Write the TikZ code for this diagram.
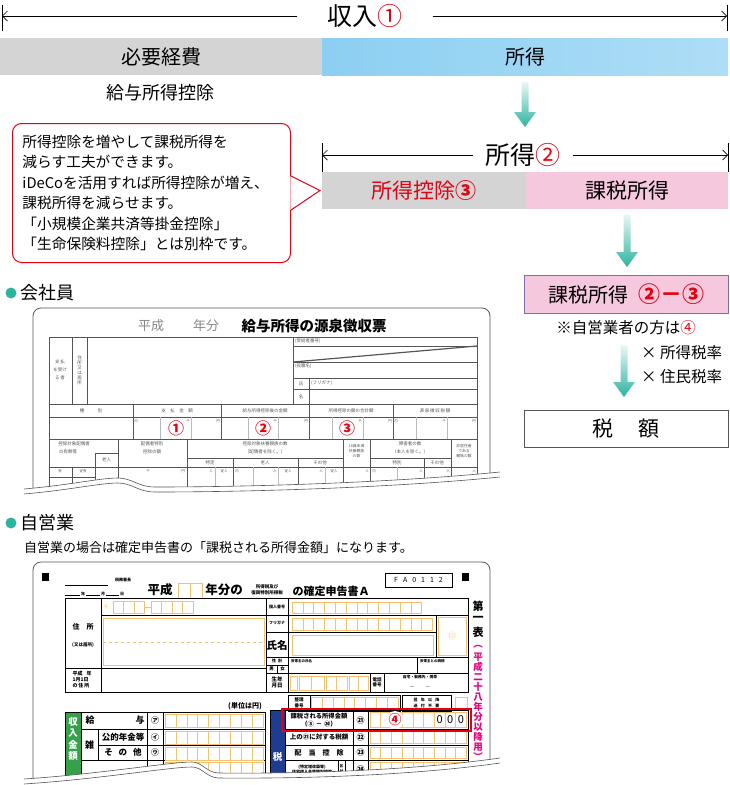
\documentclass[tikz,border=0pt]{standalone}
\usepackage{fontspec}
\setmainfont{Noto Sans CJK JP}
\usetikzlibrary{positioning}
\usetikzlibrary{calc}
\usetikzlibrary{arrows.meta}

\definecolor{maru}{RGB}{45,180,160}
\definecolor{aoi}{RGB}{140,207,242}
\definecolor{usuao}{RGB}{226,242,252}
\definecolor{hai}{RGB}{212,212,212}
\definecolor{momo}{RGB}{246,200,222}
\definecolor{aka}{RGB}{230,0,18}
\definecolor{murasaki}{RGB}{125,110,175}
\definecolor{daidai}{RGB}{247,192,110}
\definecolor{midori}{RGB}{55,160,75}
\definecolor{kon}{RGB}{30,60,145}
\definecolor{beni}{RGB}{228,0,127}
\definecolor{sumi}{RGB}{85,85,85}

\newcommand{\fs}[1]{\fontsize{#1}{#1}\selectfont}
% teal arrow pointing down, from #1 to #2
\newcommand{\tealarrow}[2]{%
  \shade[top color=maru!10, bottom color=maru]
    ($(#1)+(-3.5,0)$) -- ($(#2)+(-3.5,-15)$) -- ($(#2)+(-11,-15)$) -- (#2)
    -- ($(#2)+(11,-15)$) -- ($(#2)+(3.5,-15)$) -- ($(#1)+(3.5,0)$) -- cycle;}

\begin{document}
\begin{tikzpicture}[x=1pt, y=-1pt,
  bar/.style={minimum height=37pt, inner sep=0pt, outer sep=0pt},
  spanarrow/.style={-{Straight Barb[length=5pt,width=10pt]}, line width=0.7pt},
  mini/.style={inner sep=0pt, font=\fs{4.5}, text=sumi},
  slip/.style={draw=sumi, line width=0.5pt},
  obox/.style={draw=daidai, line width=0.6pt},
  fline/.style={draw=black, line width=1pt},
  ftxt/.style={inner sep=0pt, font=\bfseries\fs{6.5}},
  dot/.style={circle, fill=maru, minimum size=11pt, inner sep=0pt},
]
\useasboundingbox (0,0) rectangle (730,785);

% 収入
\node[font=\fs{25}, inner xsep=30pt, inner ysep=0pt] (shunyu) at (365,16) {収入\textcolor{aka}{①}};
\coordinate (s1l) at (2,16);
\coordinate (s1r) at (727,16);
\draw[spanarrow] (shunyu) -- (s1l);
\draw[spanarrow] (shunyu) -- (s1r);
\draw (2,5) -- (2,31) (727,5) -- (727,31);

\node[bar, fill=hai, minimum width=322pt, anchor=north west, font=\fs{20}] (keihi) at (0,38) {必要経費};
\node[bar, left color=aoi, middle color=usuao, right color=aoi!70, minimum width=406pt, anchor=west, font=\fs{20}] (shotoku) at (keihi.east) {所得};
\node[font=\fs{18}] (kyuyo) at (160,93) {給与所得控除};
\coordinate (a1) at (525,82);
\coordinate (a1e) at (525,127);
\tealarrow{a1}{a1e}

% 所得
\node[font=\fs{25}, inner xsep=12pt, inner ysep=0pt] (shotoku2) at (523,155) {所得\textcolor{aka}{②}};
\coordinate (s2l) at (322,155);
\coordinate (s2r) at (728,155);
\draw[spanarrow] (shotoku2) -- (s2l);
\draw[spanarrow] (shotoku2) -- (s2r);
\draw (322,143) -- (322,172) (728,143) -- (728,172);

\node[bar, fill=hai, minimum width=204pt, anchor=north west, font=\fs{21}, text=aka] (kojo) at (322,172) {所得控除\textbf{③}};
\node[bar, fill=momo, minimum width=202pt, anchor=west, font=\fs{21}] (kazei) at (kojo.east) {課税所得};

% callout
\node[draw=aka, line width=1pt, rounded corners=9pt, fill=white, minimum width=278pt, minimum height=139pt,
  text width=258pt, inner xsep=10pt, align=left, anchor=north west,
  font=\fontsize{14.7}{20.5}\selectfont] (memo) at (12,123)
  {所得控除を増やして課税所得を\\減らす工夫ができます。\\iDeCoを活用すれば所得控除が増え、\\課税所得を減らせます。\\「小規模企業共済等掛金控除」\\「生命保険料控除」とは別枠です。};
\coordinate (memotip) at ($(kojo.west)+(-2,0)$);
\fill[white] ($(memo.east)+(-0.7,-17)$) -- (memotip) -- ($(memo.east)+(-0.7,17)$) -- cycle;
\draw[aka, line width=1pt] ($(memo.east)+(0,-17)$) -- (memotip) -- ($(memo.east)+(0,17)$);

% 課税所得 -> 税額
\coordinate (a2) at ($(kazei.south)+(0,5)$);
\coordinate (a2e) at (627,267);
\tealarrow{a2}{a2e}
\node[bar, draw=murasaki, fill=momo, minimum width=204pt, minimum height=38pt, anchor=north, font=\fs{20}] (kazei2) at (626,275) {課税所得\hspace{0.5em}\textcolor{aka}{\textbf{\fs{22}②－③}}};
\node[font=\fs{15.5}, below=7pt of kazei2, inner sep=0pt] (jiei) {※自営業者の方は\textcolor{aka}{④}};
\coordinate (a3) at (624,345);
\coordinate (a3e) at (624,397);
\tealarrow{a3}{a3e}
\node[anchor=west, align=left, inner sep=0pt, font=\fontsize{15.5}{24}\selectfont] (ritsu) at (641,365) {× 所得税率\\× 住民税率};
\node[draw=sumi, line width=0.8pt, minimum width=204pt, minimum height=37pt, anchor=north, font=\fs{21}] (zeigaku) at (626,410) {税\hspace{1.2em}額};

% 会社員 : 源泉徴収票
\node[dot] (dot1) at (11,293) {};
\node[right=4pt of dot1, font=\fs{18}, inner sep=0pt] (kaisha) {会社員};
\draw[slip, line width=0.8pt, rounded corners=8pt] (33,500) -- (33,308) -- (490,308) -- (490,495);
\node[font=\fs{13}, text=sumi!70] at (151,326) {平成};
\node[font=\fs{13}, text=sumi!70] at (206,326) {年分};
\node[font=\bfseries\fs{14.5}] (slipttl) at (314,326) {給与所得の源泉徴収票};

\draw[slip] (49,500) -- (49,337) -- (477,337) -- (477,500);
\draw[slip] (72,337) -- (72,404) (87,337) -- (87,404) (293,337) -- (293,404);
\foreach \yy in {346,362,378,389} \draw[slip] (293,\yy) -- (477,\yy);
\draw[slip] (309,378) -- (309,404);
\draw[sumi, line width=1.2pt] (293,362) -- (477,346);
\foreach \yy in {404,417,439} \draw[slip] (49,\yy) -- (477,\yy);
\foreach \xx in {133,221,309,393} \draw[slip] (\xx,404) -- (\xx,439);
\foreach \xx in {160,191,248,278,332,363,416,447} \draw[slip, draw=sumi!40] (\xx,417) -- (\xx,439);
\foreach \xx in {118,187,343,370,451} \draw[slip] (\xx,439) -- (\xx,500);
\draw[slip] (49,467) -- (477,467);
\draw[slip] (95,453) -- (118,453) (95,453) -- (95,500);
\draw[slip] (187,458) -- (343,458) (370,458) -- (451,458);
\foreach \xx in {233,298,424} \draw[slip] (\xx,458) -- (\xx,500);
\draw[slip] (72,467) -- (72,500) (49,477) -- (95,477);
\foreach \xx in {215,253,278,325,397} \draw[slip, draw=sumi!40] (\xx,467) -- (\xx,500);

\node[mini, align=center, font=\fontsize{4.5}{8}\selectfont] at (60,370) {支\,払\\を受け\\る\,者};
\node[mini, align=center, font=\fontsize{4.5}{5}\selectfont] at (79.5,370) {住\\所\\又\\は\\居\\所};
\node[mini, anchor=west] at (295,341.5) {(受給者番号)};
\node[mini, anchor=west] at (295,366) {(役職名)};
\node[mini, anchor=west] at (311,383) {(フリガナ)};
\node[mini] at (301,384) {氏};
\node[mini] at (301,397) {名};
\node[mini] at (91,410.5) {種\hspace{3em}別};
\node[mini] at (177,410.5) {支\hspace{1em}払\hspace{1em}金\hspace{1em}額};
\node[mini] at (265,410.5) {給与所得控除後の金額};
\node[mini] at (351,410.5) {所得控除の額の合計額};
\node[mini] at (435,410.5) {源\,泉\,徴\,収\,税\,額};
\foreach \xx/\mk in {136/内,188/千,218/円,275/千,306/円,360/千,390/円,396/内,444/千,474/円}
  \node[mini, font=\fs{3.5}] at (\xx,421) {\mk};
\node[text=aka, font=\bfseries\fs{16}, inner sep=0pt] (m1) at (176,428) {①};
\node[text=aka, font=\bfseries\fs{16}, inner sep=0pt] (m2) at (263,428) {②};
\node[text=aka, font=\bfseries\fs{16}, inner sep=0pt] (m3) at (347,428) {③};

\node[mini] at (74,444) {控除対象配偶者};
\node[mini] at (68,452) {の有無等};
\node[mini] at (106.5,460) {老人};
\node[mini] at (152,444) {配偶者特別};
\node[mini] at (152,452) {控除の額};
\node[mini] at (265,444) {控除対象扶養親族の数};
\node[mini] at (265,452) {（配偶者を除く。）};
\node[mini] at (210,462.5) {特定};
\node[mini] at (265,462.5) {老人};
\node[mini] at (320,462.5) {その他};
\node[mini, align=center, font=\fontsize{3.8}{5}\selectfont] at (356.5,451) {16歳未満\\扶養親族\\の数};
\node[mini] at (410,444) {障害者の数};
\node[mini] at (410,452) {（本人を除く。）};
\node[mini] at (397,462.5) {特別};
\node[mini] at (437,462.5) {その他};
\node[mini, align=center, font=\fontsize{3.8}{5}\selectfont] at (464,451) {非居住者\\である\\親族の数};
\foreach \xx/\mk in {60/有,83/従有,148/千,183/円,211/人,224/従人,237/内,275/人,288/従人,321/人,334/従人,367/人,374/内,421/人,448/人,474/人}
  \node[mini, font=\fs{3.5}] at (\xx,471) {\mk};

\fill[white] (24,489) .. controls (70,485) and (100,478) .. (118,478) .. controls (132,478) and (138,487) .. (155,487) .. controls (260,487) and (400,482) .. (500,472) -- (500,506) -- (24,506) -- cycle;
\draw[sumi, line width=0.6pt] (24,489) .. controls (70,485) and (100,478) .. (118,478) .. controls (132,478) and (138,487) .. (155,487) .. controls (260,487) and (400,482) .. (500,472);
\draw[sumi, line width=0.6pt] (24,494) .. controls (70,490) and (100,483) .. (118,483) .. controls (132,483) and (138,492) .. (155,492) .. controls (260,492) and (400,487) .. (500,477);

% 自営業 : 確定申告書
\node[dot] (dot2) at (11,523) {};
\node[right=4pt of dot2, font=\fs{18}, inner sep=0pt] (jieigyo) {自営業};
\node[anchor=west, font=\fs{13}, inner sep=0pt] (setsumei) at (24,548) {自営業の場合は確定申告書の「課税される所得金額」になります。};
\draw[slip, line width=0.8pt, rounded corners=8pt] (33,790) -- (33,562) -- (490,562) -- (490,780);

\fill (42,573) rectangle (49,581);
\fill (462,573) rectangle (469,581);
\draw[line width=0.4pt] (65,585) -- (108,585);
\node[ftxt, font=\bfseries\fs{4}] at (123,580) {税務署長};
\draw[line width=0.4pt] (65,595) -- (80,595) (86,595) -- (100,595) (106,595) -- (119,595);
\node[ftxt, font=\bfseries\fs{4}] at (83,594) {年};
\node[ftxt, font=\bfseries\fs{4}] at (103,594) {月};
\node[ftxt, font=\bfseries\fs{4}] at (122,594) {日};
\node[ftxt, font=\bfseries\fs{12.5}] at (160,590) {平成};
\draw[obox, line width=0.8pt] (178,583) rectangle (202,598) (190,583) -- (190,598);
\node[ftxt, font=\bfseries\fs{12.5}] at (224,590) {年分の};
\node[ftxt, font=\bfseries\fontsize{4.5}{5.5}\selectfont, align=center] at (267,590) {所得税及び\\復興特別所得税};
\node[ftxt, font=\bfseries\fs{11}] at (331,591) {の確定申告書Ａ};
\node[draw, line width=0.8pt, minimum width=67pt, minimum height=14pt, inner sep=0pt, font=\fs{7}] (fa) at (418.5,580)
  {F\hspace{5pt}A\hspace{5pt}0\hspace{5pt}1\hspace{5pt}1\hspace{5pt}2};

\draw[fline] (65,598) rectangle (468,692);
\draw[fline] (101,598) -- (101,692) (266,598) -- (266,692) (65,668) -- (266,668) (288,598) -- (288,692);
\draw[line width=0.5pt] (101,615) -- (266,615);
\node[text=daidai, font=\fs{6}, inner sep=0pt] at (106,607) {〒};
\foreach \i in {0,1,2} \draw[obox] (113+10.5*\i,601) rectangle ++(10.5,12);
\draw[obox] (144.5,607) -- (151,607);
\foreach \i in {0,...,3} \draw[obox] (151+10.5*\i,601) rectangle ++(10.5,12);
\draw[obox] (103,618) rectangle (264,665);
\draw[obox, dashed] (103,642) -- (264,642);
\node[ftxt, font=\bfseries\fs{7}] at (83,627) {住\hspace{1em}所};
\node[ftxt, font=\bfseries\fs{4.5}] at (83,645) {(又は居所)};
\node[ftxt, font=\bfseries\fontsize{5}{6}\selectfont, align=left] at (82,680) {平成\hspace{0.8em}年\\1月1日\\の\hspace{0.2em}住\hspace{0.2em}所};

\draw[line width=0.5pt] (266,615) -- (468,615) (266,632) -- (436,632) (266,657) -- (468,657) (266,673) -- (468,673) (436,615) -- (436,657);
\node[ftxt, font=\bfseries\fs{4}] at (277,607) {個人番号};
\node[ftxt, font=\bfseries\fs{4}] at (277,623) {フリガナ};
\node[ftxt, font=\bfseries\fs{10.5}] at (277,645) {氏名};
\foreach \i in {0,...,11} \draw[obox] (292+10.8*\i,602) rectangle ++(10.8,11);
\foreach \i in {0,...,12} \draw[obox] (292+10.8*\i,618) rectangle ++(10.8,12);
\draw[obox] (292,635) rectangle (433,655);
\draw[obox] (438,617) rectangle (466,655);
\node[text=daidai!60, font=\fs{9}, inner sep=0pt] at (452,636) {㊞};
\draw[line width=0.4pt] (266,665) -- (288,665) (277,665) -- (277,673) (417,657) -- (417,673);
\node[ftxt, font=\bfseries\fs{4}] at (277,661) {性\hspace{0.5em}別};
\node[ftxt, font=\bfseries\fs{4.5}] at (271.5,669) {男};
\node[ftxt, font=\bfseries\fs{4.5}] at (282.5,669) {女};
\node[ftxt, font=\bfseries\fs{3.5}, anchor=west] at (291,661) {世帯主の氏名};
\node[ftxt, font=\bfseries\fs{3.5}, anchor=west] at (420,661) {世帯主との続柄};
\node[ftxt, font=\bfseries\fontsize{5.5}{6.5}\selectfont, align=center] at (277,682.5) {生年\\月日};
\draw[obox] (290,676) rectangle (297,690);
\foreach \xa/\xb in {299/324,326/347,349/368} {
  \draw[obox] (\xa,676) rectangle (\xb,690);
  \draw[obox] ({(\xa+\xb)/2},676) -- ({(\xa+\xb)/2},690);
}
\draw[line width=0.5pt] (370,673) -- (370,692) (384,673) -- (384,692);
\node[ftxt, font=\bfseries\fontsize{4.5}{5.5}\selectfont, align=center] at (377,682.5) {電話\\番号};
\node[ftxt, font=\bfseries\fs{3.8}] at (420,677.5) {自宅・勤務先・携帯};
\node[ftxt, font=\fs{5}] at (420,687) {－\hspace{2.2em}－};

\draw[line width=0.6pt] (288,695) rectangle (400,711) (310,695) -- (310,711);
\node[ftxt, font=\bfseries\fontsize{4.5}{5.5}\selectfont, align=center] at (299,703) {整理\\番号};
\foreach \i in {0,...,7} \draw[obox] (311.5+10.8*\i,697) rectangle ++(10.8,12);
\draw[line width=0.6pt] (402,695) rectangle (451,711);
\node[ftxt, font=\bfseries\fontsize{4}{5.5}\selectfont, align=center] at (426.5,703) {翌\hspace{0.8em}年\hspace{0.8em}以\hspace{0.8em}降\\送\hspace{0.8em}付\hspace{0.8em}不\hspace{0.8em}要};
\draw[obox] (455,697) rectangle (467,710);
\node[ftxt, font=\bfseries\fs{7}] at (245,706) {(単位は円)};

% 収入金額
\fill[midori] (65,712) rectangle (81,790);
\draw[fline] (265,790) -- (265,712) -- (65,712) -- (65,790) (81,712) -- (81,790) (147,712) -- (147,790) (163,712) -- (163,790);
\draw[line width=0.6pt] (81,729) -- (265,729) (98,745) -- (265,745) (81,760) -- (265,760) (98,729) -- (98,760);
\foreach \ch [count=\i] in {収,入,金,額} \node[ftxt, text=white, font=\bfseries\fs{9.5}] at (73,710+11.5*\i) {\ch};
\node[ftxt, font=\bfseries\fs{9}] at (90,720.5) {給};
\node[ftxt, font=\bfseries\fs{9}] at (140,720.5) {与};
\node[ftxt, font=\bfseries\fs{9}] at (89.5,745) {雑};
\node[ftxt, font=\bfseries\fs{8.5}] at (123,737) {公的年金等};
\node[ftxt, font=\bfseries\fs{8.5}] at (123,752.5) {そ\hspace{0.7em}の\hspace{0.7em}他};
\node[ftxt, font=\bfseries\fs{8}] at (155,720.5) {㋐};
\node[ftxt, font=\bfseries\fs{8}] at (155,737) {㋑};
\node[ftxt, font=\bfseries\fs{8}] at (155,752.5) {㋒};
\foreach \yy in {714,731,747,762} \foreach \i in {0,...,8} \draw[obox] (165+10.9*\i,\yy) rectangle ++(10.9,13);

% 税金の計算
\fill[kon] (270,710) rectangle (285,790);
\draw[fline] (468,790) -- (468,710) -- (270,710) -- (270,790) (285,710) -- (285,790) (353,710) -- (353,790) (368,710) -- (368,790);
\foreach \yy in {729,745,760,778} \draw[line width=0.6pt] (285,\yy) -- (468,\yy);
\node[ftxt, text=white, font=\bfseries\fs{9.5}] at (277.5,757) {税};
\node[ftxt, font=\bfseries\fontsize{6.3}{7.5}\selectfont, align=center] at (319,720) {課税される所得金額\\（③\hspace{0.3em}－\hspace{0.3em}⑳）};
\node[ftxt, font=\bfseries\fs{6.5}] at (319,737) {上の㉑に対する税額};
\node[ftxt, font=\bfseries\fs{7}] at (319,752.5) {配\hspace{1em}当\hspace{1em}控\hspace{1em}除};
\node[ftxt, font=\bfseries\fontsize{4}{5}\selectfont, align=center] at (312,769) {(特定増改築等)\\住宅借入金等特別控除};
\draw[line width=0.4pt] (338,760) -- (338,778) (345,760) -- (345,778);
\node[ftxt, font=\bfseries\fontsize{3.5}{5}\selectfont, align=center] at (341.5,769) {区\\分};
\foreach \yy/\ch in {720/㉑,737/㉒,752.5/㉓,769/㉔} \node[ftxt, font=\bfseries\fs{8}] at (360.5,\yy) {\ch};
\foreach \yy/\hh in {712/15,731/12,747/11,762/14} \foreach \i in {0,...,8} \draw[obox] (370+10.7*\i,\yy) rectangle ++(10.7,\hh);
\foreach \i in {6,7,8} \node[inner sep=0pt, font=\fs{11}] at (375.35+10.7*\i,720) {0};
\draw[aka, line width=1.8pt] (282,709) rectangle (471,731);
\node[text=aka, font=\bfseries\fs{13}, fill=white, circle, inner sep=0pt] (m4) at (395,720) {④};

\foreach \ch [count=\i] in {第,一,表} \node[ftxt, font=\bfseries\fs{11}] at (478,593+13*\i) {\ch};
\foreach \ch [count=\i] in {︵,平,成,二,十,八,年,分,以,降,用,︶} \node[ftxt, text=beni, font=\bfseries\fs{9.5}] at (478,637+10*\i) {\ch};

\fill[white] (24,779) .. controls (100,774) and (170,762) .. (192,762) .. controls (202,762) and (206,772) .. (218,773) .. controls (330,774) and (430,768) .. (500,758) -- (500,790) -- (24,790) -- cycle;
\draw[sumi, line width=0.6pt] (24,779) .. controls (100,774) and (170,762) .. (192,762) .. controls (202,762) and (206,772) .. (218,773) .. controls (330,774) and (430,768) .. (500,758);
\draw[sumi, line width=0.6pt] (24,784) .. controls (100,779) and (170,767) .. (192,767) .. controls (202,767) and (206,777) .. (218,778) .. controls (330,779) and (430,773) .. (500,763);
\end{tikzpicture}
\end{document}
